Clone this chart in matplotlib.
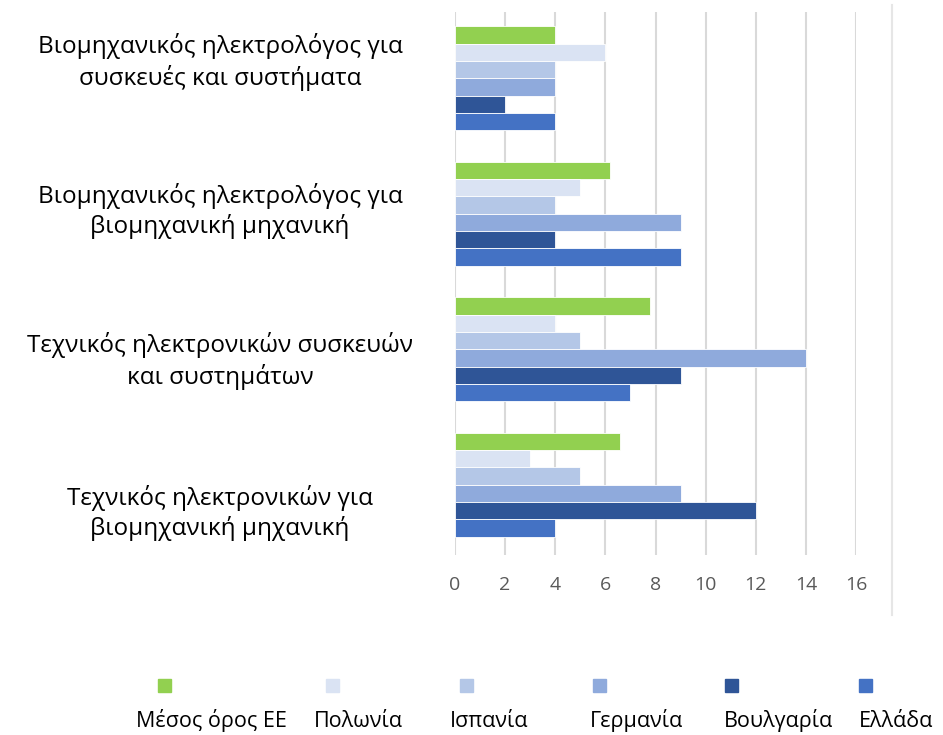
import numpy as np
import matplotlib
matplotlib.use("Agg")
import matplotlib.pyplot as plt
import matplotlib.transforms as mtransforms
from matplotlib.patches import Rectangle
from matplotlib.lines import Line2D

plt.rcParams['font.family'] = ['Open Sans', 'DejaVu Sans']

# -------------------------------
# Data
# -------------------------------
categories = [
    "Βιομηχανικός ηλεκτρολόγος για\nσυσκευές και συστήματα",
    "Βιομηχανικός ηλεκτρολόγος για\nβιομηχανική μηχανική",
    "Τεχνικός ηλεκτρονικών συσκευών\nκαι συστημάτων",
    "Τεχνικός ηλεκτρονικών για\nβιομηχανική μηχανική",
]
series_names = ["Μέσος όρος ΕΕ", "Πολωνία", "Ισπανία", "Γερμανία", "Βουλγαρία", "Ελλάδα"]
eu_avg   = [4.0, 6.2, 7.8, 6.6]
poland   = [6, 5, 4, 3]
spain    = [4, 4, 5, 5]
germany  = [4, 9, 14, 9]
bulgaria = [2, 4, 9, 12]
greece   = [4, 9, 7, 4]
x_ticks = [0, 2, 4, 6, 8, 10, 12, 14, 16]

series = [eu_avg, poland, spain, germany, bulgaria, greece]
colors = ["#92D050", "#DAE3F3", "#B4C7E7", "#8FAADC", "#2F5597", "#4472C4"]

W, H = 943, 735
fig = plt.figure(figsize=(W / 100, H / 100), dpi=100)
ax = fig.add_axes([455 / W, 1 - 555 / H, 401 / W, 543 / H])

bar_h = 0.128
y = np.arange(len(categories))
for j, (vals, c) in enumerate(zip(series, colors)):
    ax.barh(y + (j - 2.5) * bar_h, vals, height=bar_h, color=c,
            edgecolor="white", linewidth=0.6, zorder=3, label=series_names[j])

ax.set_xlim(0, 16)
ax.set_ylim(3.52, -0.49)
ax.set_xticks(x_ticks)
ax.set_xticklabels([str(t) for t in x_ticks], color="#595959", fontsize=14)
ax.tick_params(axis="x", length=0, pad=15)
ax.set_yticks([])
ax.grid(axis="x", color="#D9D9D9", linewidth=1.5, zorder=0)
for s in ax.spines.values():
    s.set_visible(False)

# category labels (positions nudged like the original)
label_offsets = [-0.12, -0.02, 0.09, 0.21]
trans = mtransforms.blended_transform_factory(ax.transAxes, ax.transData)
for i, (lab, off) in enumerate(zip(categories, label_offsets)):
    ax.text(-0.586, i + off, lab, transform=trans, ha="center", va="center",
            fontsize=17.5, color="black", linespacing=1.3)

# right border line
fig.add_artist(Line2D([892 / W, 892 / W], [1 - 5 / H, 1 - 615 / H],
                      color="#E6E6E6", linewidth=1.5))

# manual legend
sq_x = [158, 326, 460, 593, 725, 859]
txt_x = [136, 314, 450, 590, 724, 859]
for name, c, sx, tx in zip(series_names, colors, sq_x, txt_x):
    fig.add_artist(Rectangle((sx / W, 1 - 692 / H), 13 / W, 13 / H,
                             transform=fig.transFigure, color=c))
    fig.text(tx / W, 1 - 727 / H, name, ha="left", va="baseline",
             fontsize=15.5, color="black")

fig.savefig("out.png", dpi=100)
